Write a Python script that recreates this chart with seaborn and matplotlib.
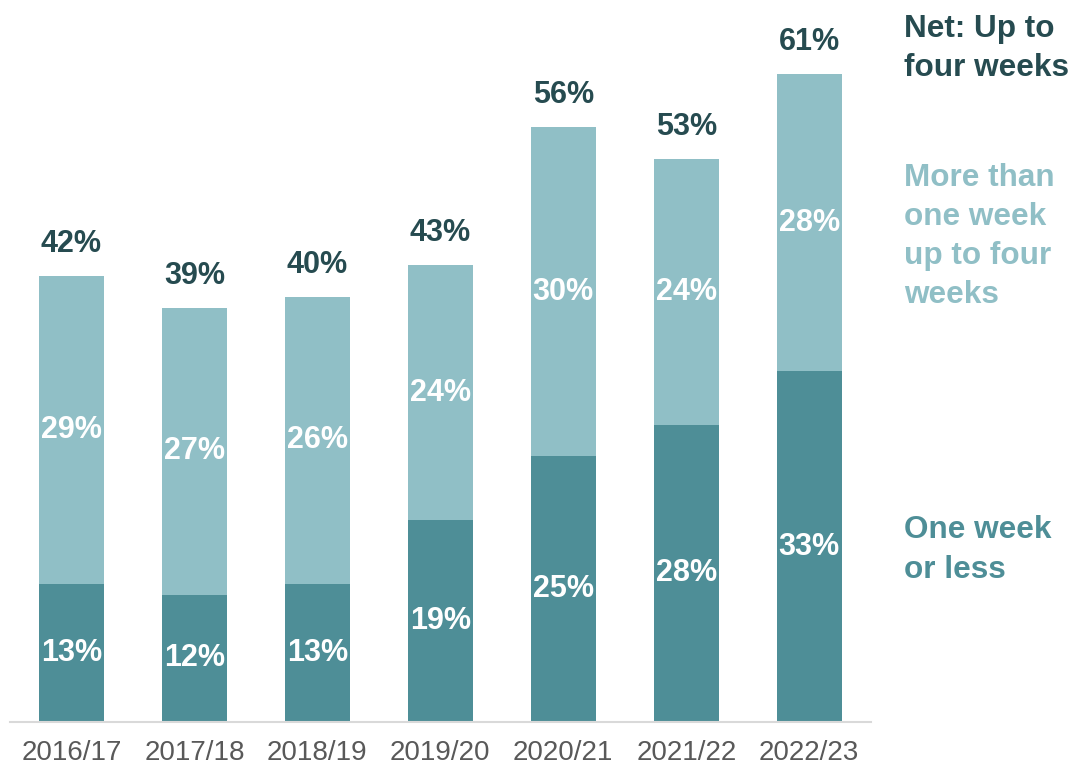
import pandas as pd
import seaborn as sns
import matplotlib.pyplot as plt

# valores
years = ["2016/17", "2017/18", "2018/19", "2019/20", "2020/21", "2021/22", "2022/23"]
one_week = [13, 12, 13, 19, 25, 28, 33]
one_to_four = [29, 27, 26, 24, 30, 24, 28]
net_four = [42, 39, 40, 43, 56, 53, 61]

dark = "#4E8E97"
light = "#90BFC6"
navy = "#264B50"

df = pd.DataFrame({"year": years, "one_week": one_week,
                   "one_to_four": one_to_four, "net": net_four})

sns.set_style("white")
plt.rcParams["font.family"] = ["Liberation Sans", "DejaVu Sans"]

fig = plt.figure(figsize=(10.76, 7.72), dpi=100)
ax = fig.add_axes([0.0093, 0.0648, 0.7999, 0.9067])

# barra clara = total (net), barra escura por cima = uma semana ou menos
sns.barplot(data=df, x="year", y="net", color=light, width=0.53,
            saturation=1, linewidth=0, ax=ax)
sns.barplot(data=df, x="year", y="one_week", color=dark, width=0.53,
            saturation=1, linewidth=0, ax=ax)

for i, row in df.iterrows():
    ax.text(i, row["one_week"] / 2, f"{row['one_week']}%", ha="center",
            va="center", color="white", fontsize=22, fontweight="bold")
    ax.text(i, (row["one_week"] + row["net"]) / 2, f"{row['one_to_four']}%",
            ha="center", va="center", color="white", fontsize=22,
            fontweight="bold")
    ax.text(i, row["net"] + 1.6, f"{row['net']}%", ha="center",
            va="bottom", color=navy, fontsize=22, fontweight="bold")

ax.set_xlim(-0.5, 6.5)
ax.set_ylim(0, 65.9)
ax.set_xlabel("")
ax.set_ylabel("")
ax.set_yticks([])
ax.tick_params(axis="x", length=0, pad=13, labelsize=20, labelcolor="#595959")

for s in ["top", "right", "left"]:
    ax.spines[s].set_visible(False)
ax.spines["bottom"].set_color("#D9D9D9")
ax.spines["bottom"].set_linewidth(1.5)

# legenda como texto à direita
leg_x = 6.77
ax.text(leg_x, 63.4, "Net: Up to\nfour weeks", ha="left", va="center",
        color=navy, fontsize=22.7, fontweight="bold", linespacing=1.4,
        clip_on=False)
ax.text(leg_x, 45.7, "More than\none week\nup to four\nweeks", ha="left",
        va="center", color=light, fontsize=22.7, fontweight="bold",
        linespacing=1.4, clip_on=False)
ax.text(leg_x, 16.2, "One week\nor less", ha="left", va="center",
        color=dark, fontsize=22.7, fontweight="bold", linespacing=1.4,
        clip_on=False)

fig.savefig("out.png", dpi=100)
